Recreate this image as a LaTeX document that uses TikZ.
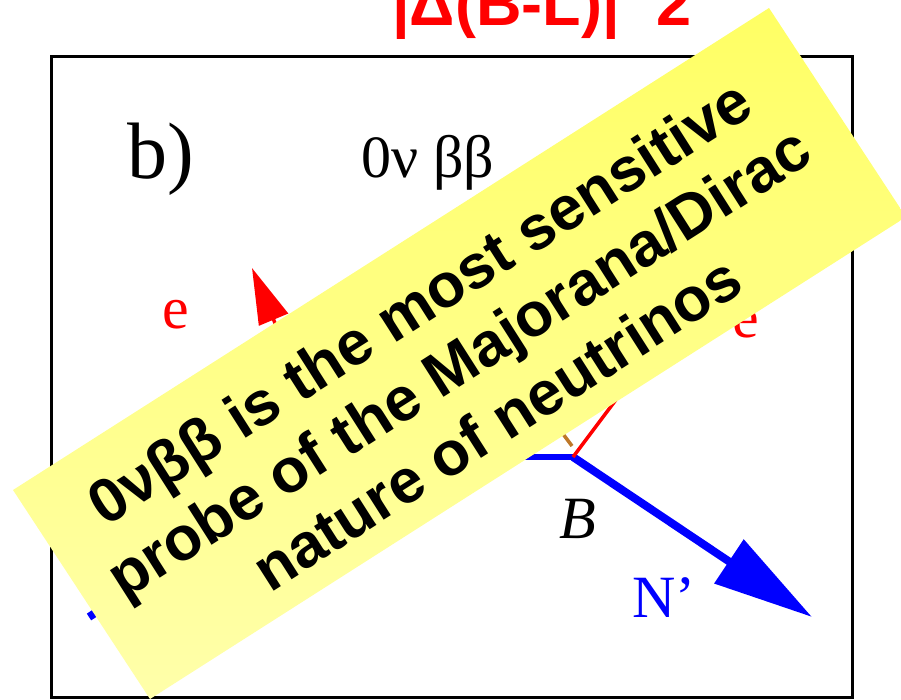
\documentclass[tikz,border=0pt]{standalone}
\usepackage{fontspec}
\setmainfont{Liberation Serif}
\setsansfont{Liberation Sans}
\usetikzlibrary{arrows.meta}
\definecolor{myred}{RGB}{255,0,0}
\definecolor{myblue}{RGB}{0,0,255}
\definecolor{mybrown}{RGB}{190,120,40}
\definecolor{yelA}{RGB}{255,255,100}
\definecolor{yelB}{RGB}{255,255,170}
\begin{document}
\begin{tikzpicture}[x=1pt,y=-1pt,
  serif/.style={font=\fontsize{60}{72}\selectfont, inner sep=0pt},
  bluethick/.style={draw=myblue, line width=8pt},
  bluethin/.style={draw=myblue, line width=6pt},
  redline/.style={draw=myred, line width=3.5pt, -{Triangle[length=56pt,width=31pt]}},
  brownline/.style={draw=mybrown, line width=3.5pt},
  notetext/.style={font=\sffamily\bfseries\fontsize{62}{72}\selectfont, align=center, inner sep=0pt, rotate=32.5}]
\useasboundingbox (0,0) rectangle (901,699);
\fill[white] (0,0) rectangle (901,699);
% title (cut at top)
\node[font=\sffamily\bfseries\fontsize{63}{70}\selectfont, text=myred, anchor=base west, inner sep=0pt] (title) at (392,25) {|Δ(B-L)|\phantom{=}2};
% frame
\draw[line width=3pt] (51.5,56.5) rectangle (852.5,697);
% labels
\node[serif, font=\fontsize{80}{90}\selectfont, anchor=base west] (blab) at (127,178) {b)};
\node[serif, anchor=base west] (proc) at (361,177) {0ν ββ};
\node[serif, text=myred, anchor=base] (eleft) at (176,328) {e};
\node[serif, text=myred, anchor=base] (eright) at (746,337) {e};
\node[serif, anchor=base] (Blab) at (578,538) {\itshape B};
\node[serif, text=myblue, anchor=base] (Nlab) at (664,617) {N’};
% diagram
\coordinate (A) at (331,457);
\coordinate (B) at (573,457);
\coordinate (Nin) at (89,617);
\coordinate (Nout) at (812,617);
\coordinate (eL) at (252,268);
\coordinate (eR) at (696,293);
\coordinate (W1) at (548,414);
\coordinate (W2) at (572,446);
\draw[bluethick] (Nin) -- (A);
\draw[bluethin] (A) -- (B);
\draw[bluethick, -{Triangle[length=100pt,width=51pt]}] (B) -- (Nout);
\draw[redline] (A) -- (eL);
\draw[redline] (B) -- (eR);
\draw[brownline] (W1) -- (W2);
% yellow note
\shade[shading angle=32.5, top color=yelA, bottom color=yelB] (13,490) -- (769,8) -- (906,217) -- (150,699) -- cycle;
\node[notetext] (note) at (458,362) {0νββ is the most sensitive\\probe of the Majorana/Dirac\\nature of neutrinos};
\end{tikzpicture}
\end{document}
